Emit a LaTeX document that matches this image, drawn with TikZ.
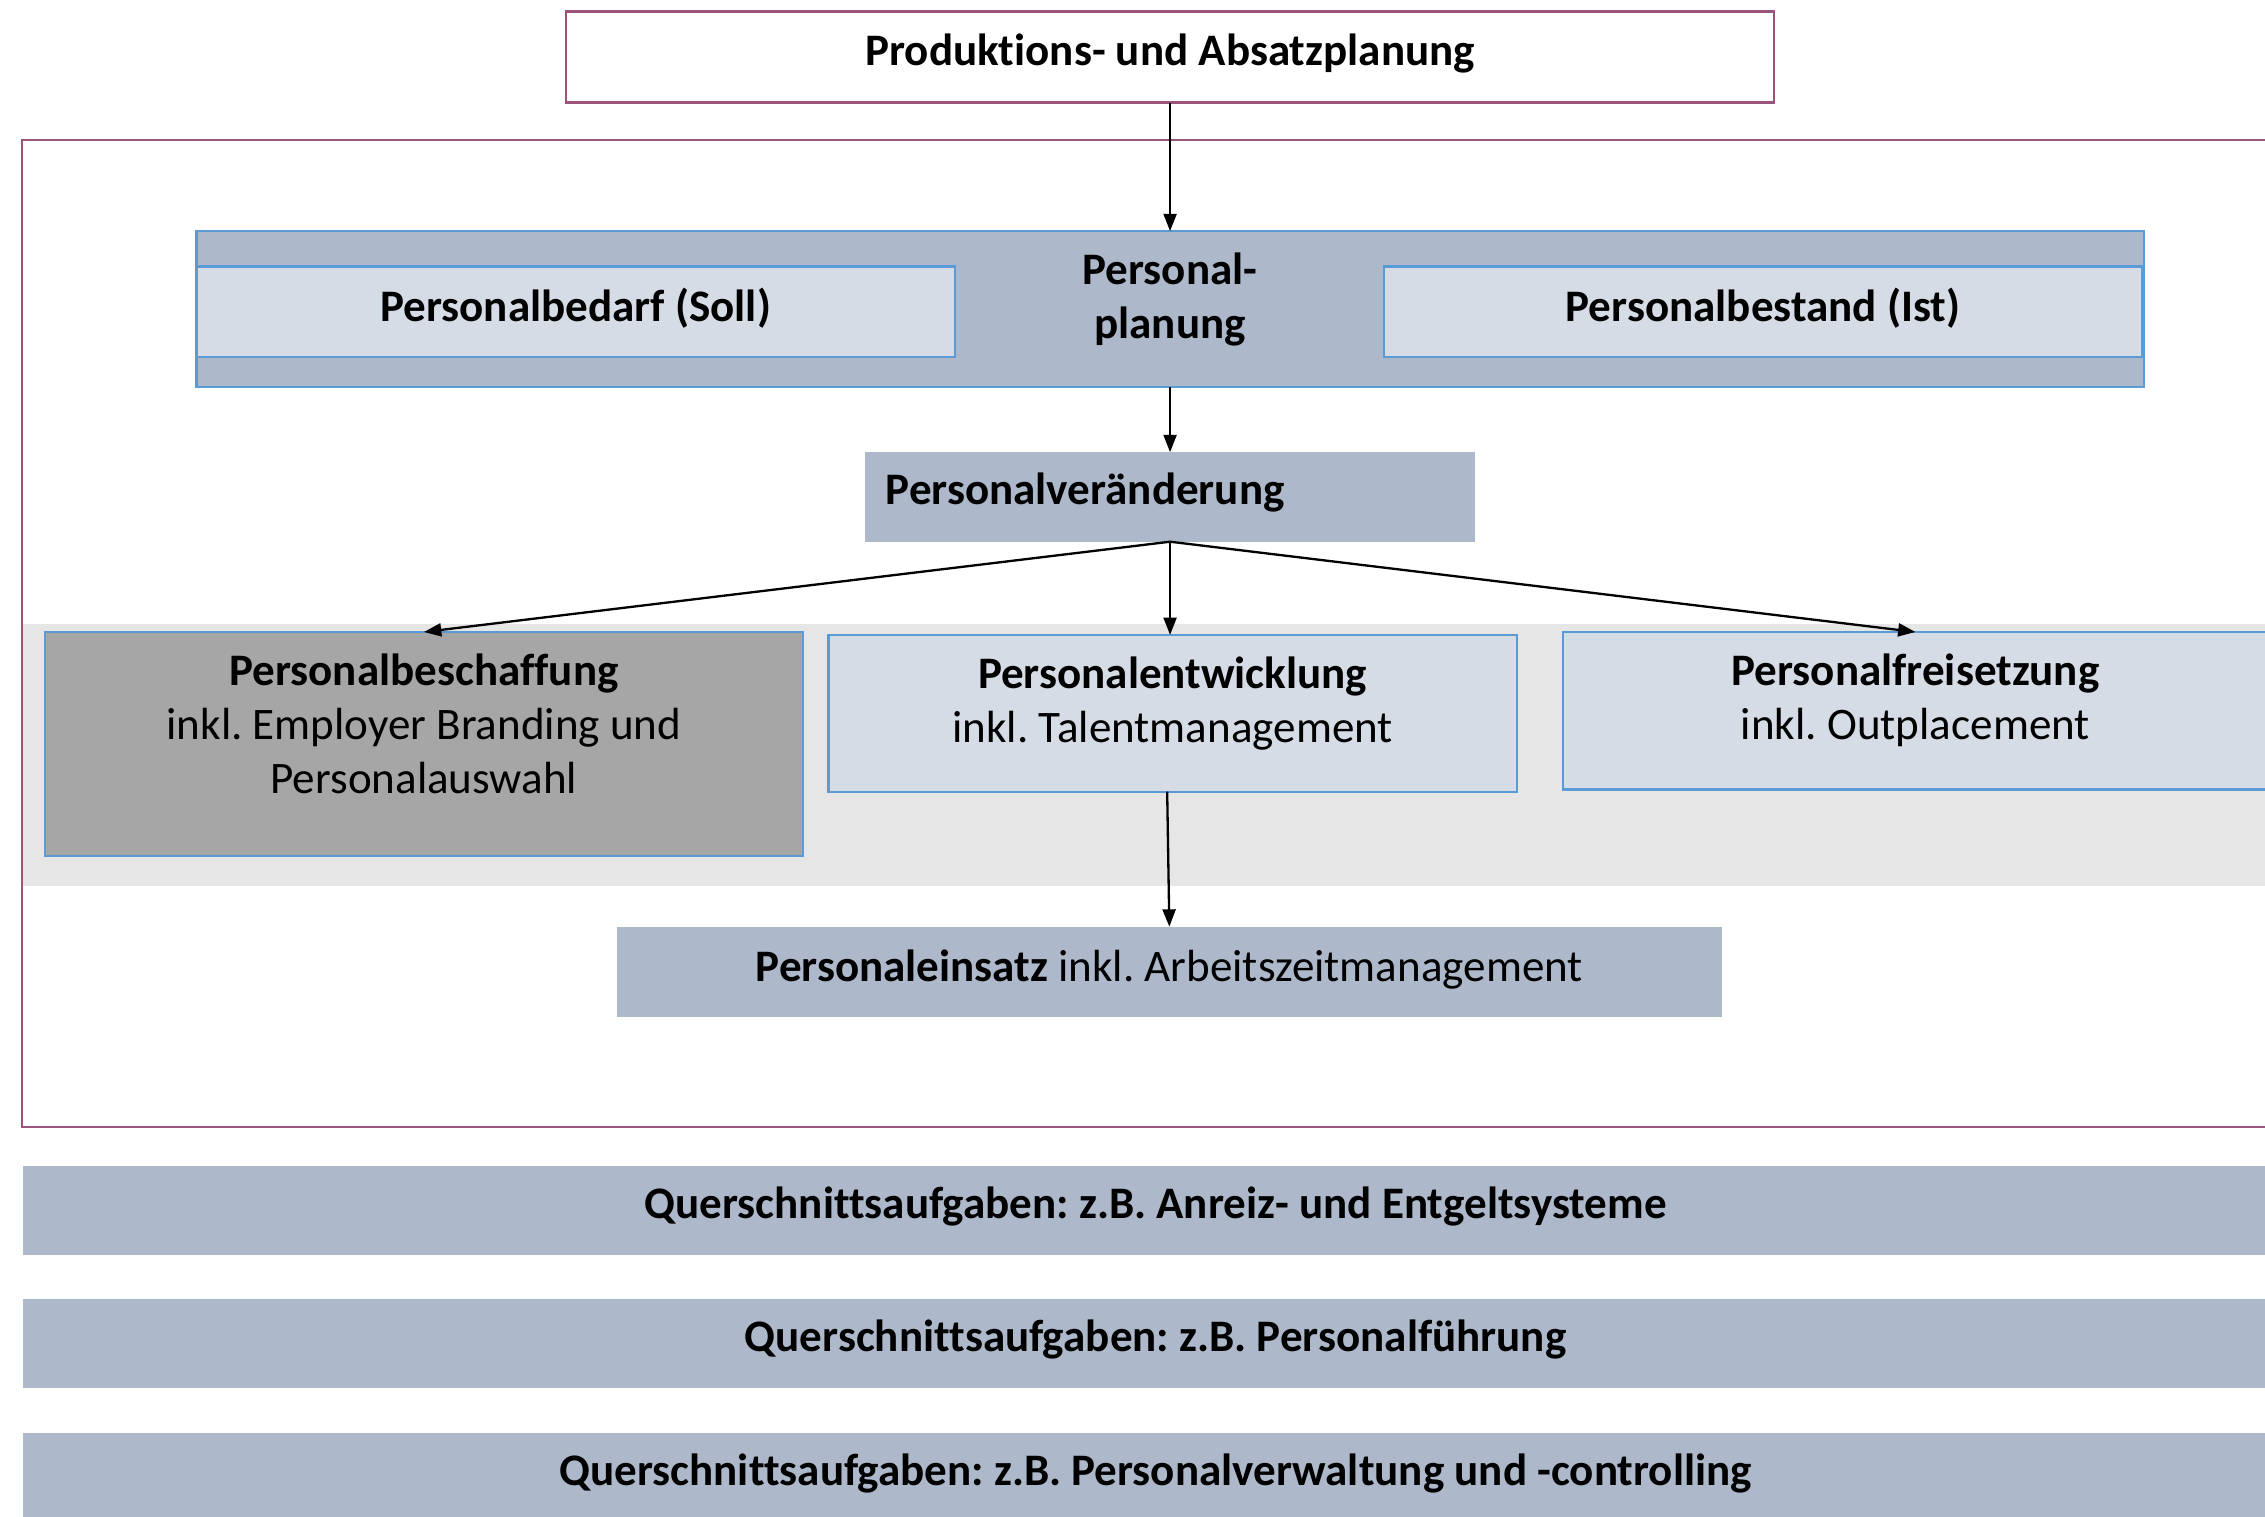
\documentclass[tikz,border=0pt]{standalone}
\usepackage{fontspec}
\setmainfont{Carlito}[Ligatures={NoCommon}]
\usetikzlibrary{arrows.meta}
\definecolor{frameC}{RGB}{155,85,125}
\definecolor{blueC}{RGB}{91,155,213}
\definecolor{darkF}{RGB}{173,185,202}
\definecolor{lightF}{RGB}{214,220,229}
\definecolor{grayF}{RGB}{166,166,166}
\definecolor{bandF}{RGB}{231,230,230}
\frenchspacing
\begin{document}
\begin{tikzpicture}[x=1pt,y=-1pt,
  font=\fontsize{31.2}{37.4}\selectfont,
  base/.style={rectangle, inner sep=0pt, outer sep=0pt},
  topbox/.style={base, draw=frameC, line width=1.5pt, fill=white},
  planbox/.style={base, draw=blueC, line width=1.5pt, fill=darkF},
  lightbox/.style={base, draw=blueC, line width=1.5pt, fill=lightF},
  graybox/.style={base, draw=blueC, line width=1.5pt, fill=grayF},
  flatbox/.style={base, fill=darkF},
  txt/.style={inner sep=0pt, align=center},
  arr/.style={line width=1.6pt, -{Triangle[length=12pt,width=9pt]}}
]
\useasboundingbox (0,0) rectangle (1568,1050);
\clip (0,0) rectangle (1568,1050);

% outer frame and band
\draw[frameC, line width=1.5pt] (1600,97) -- (15,97) -- (15,780) -- (1600,780);
\fill[bandF] (16,432) rectangle (1600,613);

% top box
\node[topbox, minimum width=836, minimum height=63] (prod) at (810,39.5) {};
\node[txt] (prodt) at (810,37) {\bfseries Produktions- und Absatzplanung};

% Personalplanung
\node[planbox, minimum width=1348, minimum height=108] (plan) at (810,214) {};
\node[lightbox, minimum width=525, minimum height=62.5] (soll) at (398.5,215.75) {};
\node[txt] (sollt) at (398.5,213) {\bfseries Personalbedarf (Soll)};
\node[lightbox, minimum width=525, minimum height=62.5] (ist) at (1220.5,215.75) {};
\node[txt] (istt) at (1220.5,213) {\bfseries Personalbestand (Ist)};
\node[txt] (plant) at (810,207.5) {\bfseries Personal-\\\bfseries planung};

% Personalveraenderung
\node[flatbox, minimum width=422, minimum height=62] (chg) at (810,344) {};
\node[txt, anchor=west] (chgt) at (613,341) {\bfseries Personalveränderung};

% three boxes
\node[graybox, minimum width=525, minimum height=155] (besch) at (293.5,515) {};
\node[txt] (escht) at (293.5,501) {\textbf{Personalbeschaffung}\\inkl. Employer Branding und\\Personalauswahl};
\node[lightbox, minimum width=476.5, minimum height=108.5] (entw) at (811.75,493.75) {};
\node[txt] (entwt) at (811.75,487) {\textbf{Personalentwicklung}\\inkl. Talentmanagement};
\node[lightbox, minimum width=488, minimum height=109] (frei) at (1326,492) {};
\node[txt] (freit) at (1326,485) {\textbf{Personalfreisetzung}\\inkl. Outplacement};

% Personaleinsatz
\node[flatbox, minimum width=765, minimum height=62.5] (eins) at (809.5,672.75) {};
\node[txt] (einst) at (809.5,671) {\textbf{Personaleinsatz} inkl. Arbeitszeitmanagement};

% Querschnittsaufgaben
\node[flatbox, minimum width=1568, minimum height=62] (q1) at (800,838) {};
\node[txt] (q1t) at (800,835) {\bfseries Querschnittsaufgaben: z.B. Anreiz- und Entgeltsysteme};
\node[flatbox, minimum width=1568, minimum height=62] (q2) at (800,930) {};
\node[txt] (q2t) at (800,927) {\bfseries Querschnittsaufgaben: z.B. Personalführung};
\node[flatbox, minimum width=1568, minimum height=62] (q3) at (800,1023) {};
\node[txt] (q3t) at (800,1020) {\bfseries Querschnittsaufgaben: z.B. Personalverwaltung und -controlling};

% arrows
\draw[arr] (prod.south) -- (plan.north);
\draw[arr] (plan.south) -- (chg.north);
\draw[arr] (chg.south) -- (besch.north);
\draw[arr] (chg.south) -- (entw.north -| chg.south);
\draw[arr] (chg.south) -- (frei.north);
\draw[arr] (entw.south -| 808,0) -- (eins.north);
\end{tikzpicture}
\end{document}
